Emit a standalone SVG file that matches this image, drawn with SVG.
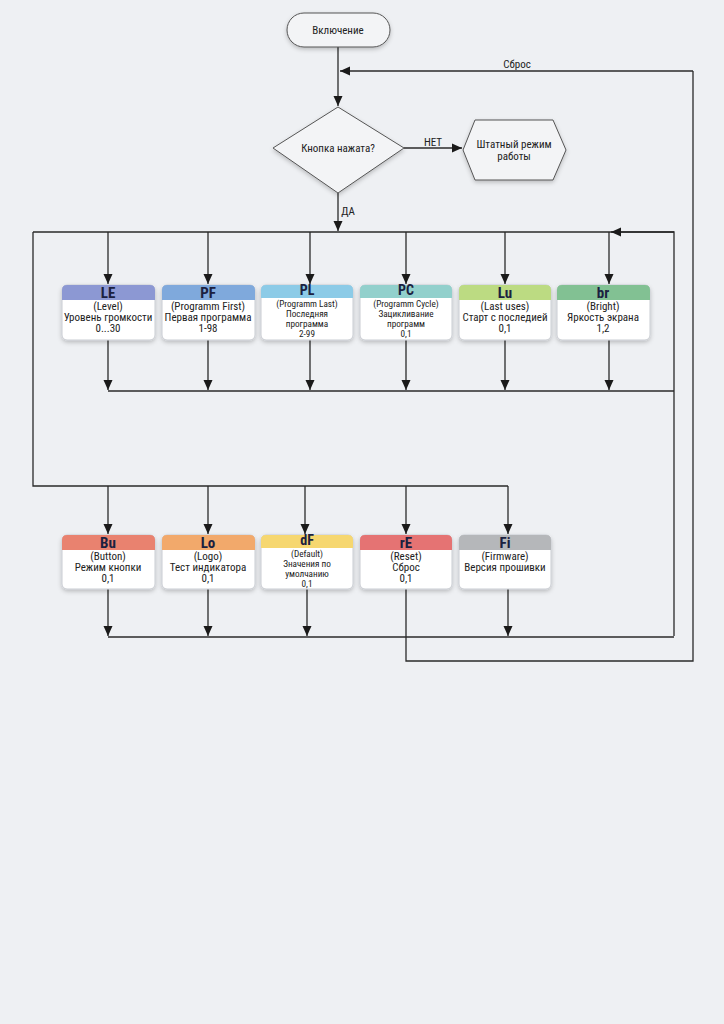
<svg xmlns="http://www.w3.org/2000/svg" width="724" height="1024" viewBox="0 0 724 1024">
<defs>
<style>
.ln{fill:none;stroke:#2a2a2a;stroke-width:1.3}
.ar{marker-end:url(#ah)}
.t{font-family:"Liberation Sans Narrow","Roboto Condensed","DejaVu Sans Condensed",sans-serif;fill:#222;text-anchor:middle}
.s{font-size:11px}
.s2{font-size:9.2px}
.h{font-size:15px;font-weight:bold;fill:#1b2140}
.h2{font-size:14px;font-weight:bold;fill:#1b2140}
.box{fill:#fff;stroke:#c9ccd2;stroke-width:1}
.shape{fill:#f3f4f6;stroke:#555;stroke-width:1}
</style>
<marker id="ah" markerUnits="userSpaceOnUse" markerWidth="10" markerHeight="10" viewBox="0 0 10 10" refX="10" refY="5" orient="auto">
<path d="M0,0.5 L10,5 L0,9.5 Z" fill="#1a1a1a"/>
</marker>
<filter id="sh" x="-20%" y="-20%" width="140%" height="150%">
<feDropShadow dx="0" dy="2" stdDeviation="2" flood-color="#000" flood-opacity="0.22"/>
</filter>
</defs>
<rect width="724" height="1024" fill="#eef0f3"/>

<g id="connectors">
<path class="ln ar" d="M338,47 V106"/>
<path class="ln ar" d="M693,71 V71 H340"/>
<path class="ln ar" d="M404,148 H462"/>
<path class="ln ar" d="M338,193 V231"/>
<path class="ln" d="M33,232 H674 V636 M33,232 V486 H508"/>
<path class="ln ar" d="M674,232 H611"/>
<path class="ln ar" d="M108,232 V284"/>
<path class="ln ar" d="M208,232 V284"/>
<path class="ln ar" d="M310,232 V284"/>
<path class="ln ar" d="M406,232 V284"/>
<path class="ln ar" d="M505,232 V284"/>
<path class="ln ar" d="M609,232 V284"/>
<path class="ln" d="M108,391 H674"/>
<path class="ln ar" d="M108,340 V390"/>
<path class="ln ar" d="M208,340 V390"/>
<path class="ln ar" d="M310,340 V390"/>
<path class="ln ar" d="M406,340 V390"/>
<path class="ln ar" d="M505,340 V390"/>
<path class="ln ar" d="M609,340 V390"/>
<path class="ln ar" d="M108,486 V534"/>
<path class="ln ar" d="M208,486 V534"/>
<path class="ln ar" d="M305,486 V534"/>
<path class="ln ar" d="M406,486 V534"/>
<path class="ln ar" d="M508,486 V534"/>
<path class="ln" d="M108,637 H674"/>
<path class="ln ar" d="M108,589 V636"/>
<path class="ln ar" d="M208,589 V636"/>
<path class="ln ar" d="M307,589 V636"/>
<path class="ln ar" d="M508,589 V636"/>
<path class="ln" d="M406,589 V661 H693 V71"/>
<text class="t s" x="517" y="68">Сброс</text>
<text class="t s" x="433" y="146">НЕТ</text>
<text class="t s" x="348" y="215">ДА</text>
</g>

<g id="start">
<rect x="287" y="13" width="103" height="34" rx="17" class="shape" filter="url(#sh)"/>
<text class="t s" x="338" y="34">Включение</text>
</g>
<g id="decision">
<polygon points="338,107 404,148 338,193 273,148" class="shape" filter="url(#sh)"/>
<text class="t s" x="338" y="152">Кнопка нажата?</text>
</g>
<g id="normal">
<polygon points="463,150 475,120 553,120 566,150 553,180 475,180" class="shape" filter="url(#sh)"/>
<text class="t s" x="514" y="148">Штатный режим</text>
<text class="t s" x="514" y="160">работы</text>
</g>

<g id="LE">
<rect x="62" y="285" width="93" height="55" rx="5" class="box" filter="url(#sh)"/>
<path d="M62,300 V290 Q62,285 67,285 H150 Q155,285 155,290 V300 Z" fill="#8c98d3"/>
<text class="t h" x="108" y="298">LE</text>
<text class="t s" x="108" y="310">(Level)</text>
<text class="t s" x="108" y="321">Уровень громкости</text>
<text class="t s" x="108" y="332">0...30</text>
</g>
<g id="PF">
<rect x="162" y="285" width="93" height="55" rx="5" class="box" filter="url(#sh)"/>
<path d="M162,300 V290 Q162,285 167,285 H250 Q255,285 255,290 V300 Z" fill="#7fa9dc"/>
<text class="t h" x="208" y="298">PF</text>
<text class="t s" x="208" y="310">(Programm First)</text>
<text class="t s" x="208" y="321">Первая программа</text>
<text class="t s" x="208" y="332">1-98</text>
</g>
<g id="PL">
<rect x="261" y="285" width="92" height="55" rx="5" class="box" filter="url(#sh)"/>
<path d="M261,298 V290 Q261,285 266,285 H348 Q353,285 353,290 V298 Z" fill="#8ccbe7"/>
<text class="t h2" x="307" y="295">PL</text>
<text class="t s2" x="307" y="306.5">(Programm Last)</text>
<text class="t s2" x="307" y="316.8">Последняя</text>
<text class="t s2" x="307" y="327.1">программа</text>
<text class="t s2" x="307" y="337.4">2-99</text>
</g>
<g id="PC">
<rect x="360" y="285" width="92" height="55" rx="5" class="box" filter="url(#sh)"/>
<path d="M360,298 V290 Q360,285 365,285 H447 Q452,285 452,290 V298 Z" fill="#92d0cc"/>
<text class="t h2" x="406" y="295">PC</text>
<text class="t s2" x="406" y="306.5">(Programm Cycle)</text>
<text class="t s2" x="406" y="316.8">Зацикливание</text>
<text class="t s2" x="406" y="327.1">программ</text>
<text class="t s2" x="406" y="337.4">0,1</text>
</g>
<g id="Lu">
<rect x="459" y="285" width="92" height="55" rx="5" class="box" filter="url(#sh)"/>
<path d="M459,300 V290 Q459,285 464,285 H546 Q551,285 551,290 V300 Z" fill="#bcdb82"/>
<text class="t h" x="505" y="298">Lu</text>
<text class="t s" x="505" y="310">(Last uses)</text>
<text class="t s" x="505" y="321">Старт с последией</text>
<text class="t s" x="505" y="332">0,1</text>
</g>
<g id="br">
<rect x="557" y="285" width="93" height="55" rx="5" class="box" filter="url(#sh)"/>
<path d="M557,300 V290 Q557,285 562,285 H645 Q650,285 650,290 V300 Z" fill="#82c193"/>
<text class="t h" x="603" y="298">br</text>
<text class="t s" x="603" y="310">(Bright)</text>
<text class="t s" x="603" y="321">Яркость экрана</text>
<text class="t s" x="603" y="332">1,2</text>
</g>

<g id="Bu">
<rect x="62" y="535" width="93" height="54" rx="5" class="box" filter="url(#sh)"/>
<path d="M62,550 V540 Q62,535 67,535 H150 Q155,535 155,540 V550 Z" fill="#e9826f"/>
<text class="t h" x="108" y="548">Bu</text>
<text class="t s" x="108" y="560">(Button)</text>
<text class="t s" x="108" y="571">Режим кнопки</text>
<text class="t s" x="108" y="582">0,1</text>
</g>
<g id="Lo">
<rect x="162" y="535" width="93" height="54" rx="5" class="box" filter="url(#sh)"/>
<path d="M162,550 V540 Q162,535 167,535 H250 Q255,535 255,540 V550 Z" fill="#f2a96b"/>
<text class="t h" x="208" y="548">Lo</text>
<text class="t s" x="208" y="560">(Logo)</text>
<text class="t s" x="208" y="571">Тест индикатора</text>
<text class="t s" x="208" y="582">0,1</text>
</g>
<g id="dF">
<rect x="261" y="535" width="92" height="54" rx="5" class="box" filter="url(#sh)"/>
<path d="M261,548 V540 Q261,535 266,535 H348 Q353,535 353,540 V548 Z" fill="#f6d770"/>
<text class="t h2" x="307" y="545">dF</text>
<text class="t s2" x="307" y="556.5">(Default)</text>
<text class="t s2" x="307" y="566.8">Значения по</text>
<text class="t s2" x="307" y="577.1">умолчанию</text>
<text class="t s2" x="307" y="587.4">0,1</text>
</g>
<g id="rE">
<rect x="360" y="535" width="92" height="54" rx="5" class="box" filter="url(#sh)"/>
<path d="M360,550 V540 Q360,535 365,535 H447 Q452,535 452,540 V550 Z" fill="#e57373"/>
<text class="t h" x="406" y="548">rE</text>
<text class="t s" x="406" y="560">(Reset)</text>
<text class="t s" x="406" y="571">Сброс</text>
<text class="t s" x="406" y="582">0,1</text>
</g>
<g id="Fi">
<rect x="459" y="535" width="92" height="54" rx="5" class="box" filter="url(#sh)"/>
<path d="M459,550 V540 Q459,535 464,535 H546 Q551,535 551,540 V550 Z" fill="#b5b7ba"/>
<text class="t h" x="505" y="548">Fi</text>
<text class="t s" x="505" y="560">(Firmware)</text>
<text class="t s" x="505" y="571">Версия прошивки</text>
</g>
</svg>
